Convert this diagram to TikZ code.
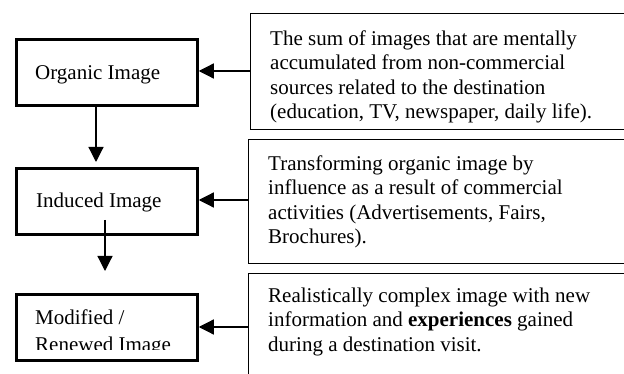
\documentclass[tikz,border=0pt]{standalone}
\usepackage{fontspec}
\setmainfont{Liberation Serif}
\usetikzlibrary{arrows.meta}
\begin{document}
\begin{tikzpicture}[x=1pt,y=-1pt,
  stagebox/.style={draw, line width=2.5pt, minimum width=181pt, minimum height=66pt, anchor=north west, inner sep=0pt},
  descbox/.style={draw, line width=1.3pt, minimum width=420pt, anchor=north west, inner sep=0pt},
  txt/.style={inner sep=0pt, font=\fontsize{21}{24.4}\selectfont, align=left},
  flow/.style={line width=1.2pt, -{Triangle[length=15pt, width=15pt]}}
]
\useasboundingbox (0,0) rectangle (624,374);
\clip (0,0) rectangle (624,374);
% left stage boxes
\node[stagebox] (s1) at (15.25,38.25) {};
\node[stagebox] (s2) at (15.25,167.25) {};
\node[stagebox] (s3) at (15.25,293.25) {};
\node[txt, anchor=base west] (t1) at (35,80) {Organic Image};
\node[txt, anchor=base west] (t2) at (36,208) {Induced Image};
\node[txt, anchor=base west] (t3) at (35,324) {Modified /};
\begin{scope}
  \clip (0,0) rectangle (624,349.5);
  \node[txt, anchor=base west] (t4) at (35,351) {Renewed Image};
\end{scope}
% right description boxes
\node[descbox, minimum height=116pt] (d1) at (249.5,13) {};
\node[descbox, minimum height=124pt] (d2) at (247.5,139) {};
\node[descbox, minimum height=140pt] (d3) at (247.5,273) {};
\node[txt, anchor=north west] (u1) at (270,30.5) {The sum of images that are mentally\\accumulated from non-commercial\\sources related to the destination\\(education, TV, newspaper, daily life).};
\node[txt, anchor=north west] (u2) at (268,155.5) {Transforming organic image by\\influence as a result of commercial\\activities (Advertisements, Fairs,\\Brochures).};
\node[txt, anchor=north west] (u3) at (268,287.5) {Realistically complex image with new\\information and \textbf{experiences} gained\\during a destination visit.};
% connectors
\coordinate (a1) at (96,162);
\coordinate (b2) at (105,220);
\coordinate (a2) at (105,271);
\draw[flow] (s1.south -| a1) -- (a1);
\draw[flow] (b2) -- (a2);
\draw[flow] (d1.west |- 0,71) -- (s1.east |- 0,71);
\draw[flow] (d2.west |- 0,200) -- (s2.east |- 0,200);
\draw[flow] (d3.west |- 0,327) -- (s3.east |- 0,327);
\end{tikzpicture}
\end{document}
